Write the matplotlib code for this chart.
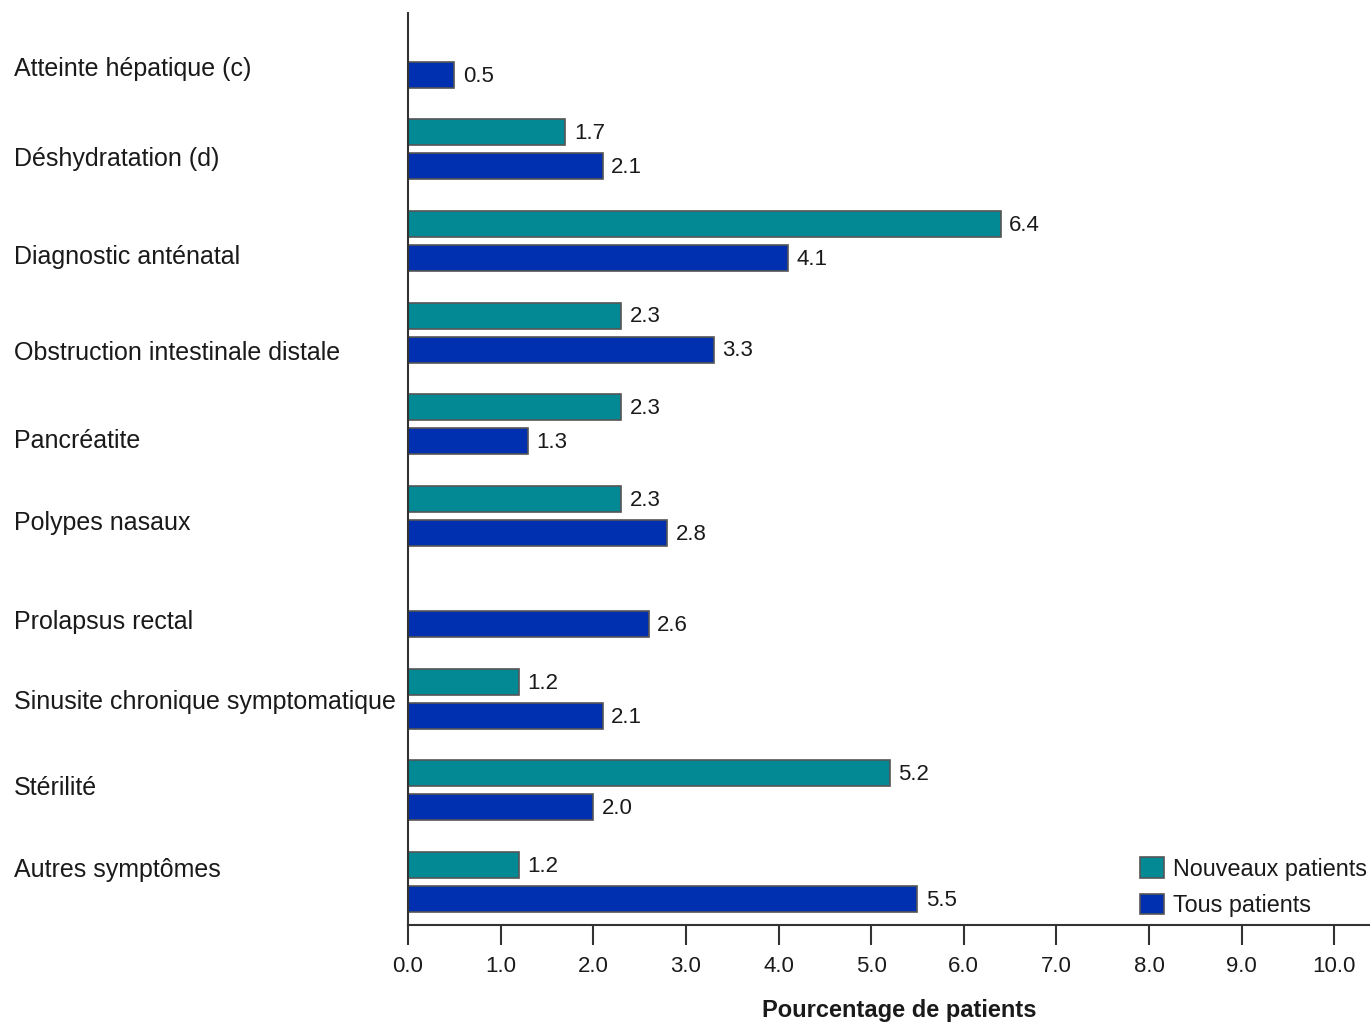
import numpy as np
import matplotlib
matplotlib.use("Agg")
import matplotlib.pyplot as plt
from matplotlib.transforms import blended_transform_factory
from matplotlib.patches import Patch

plt.rcParams['font.family'] = ['Liberation Sans', 'DejaVu Sans']

# Data
categories = [
    "Atteinte hépatique (c)",
    "Déshydratation (d)",
    "Diagnostic anténatal",
    "Obstruction intestinale distale",
    "Pancréatite",
    "Polypes nasaux",
    "Prolapsus rectal",
    "Sinusite chronique symptomatique",
    "Stérilité",
    "Autres symptômes",
]
nouveaux = [np.nan, 1.7, 6.4, 2.3, 2.3, 2.3, np.nan, 1.2, 5.2, 1.2]
tous = [0.5, 2.1, 4.1, 3.3, 1.3, 2.8, 2.6, 2.1, 2.0, 5.5]
series_names = ["Nouveaux patients", "Tous patients"]
xticks = np.arange(0, 11, 1.0)

# Style
teal = "#028993"
blue = "#0030b0"
edge = "#555555"
text_color = "#1a1a1a"
label_nudge = [0.12, 0.11, 0.17, 0.22, 0.18, 0.08, 0.16, 0.03, -0.03, -0.13]

fig = plt.figure(figsize=(13.7, 10.22), dpi=100)
ax = fig.add_axes([0.2978, 0.0949, 0.7022, 0.8924])

y = np.arange(len(categories))
offset = 0.1856
height = 0.284

b1 = ax.barh(y - offset, nouveaux, height=height, color=teal, edgecolor=edge, linewidth=1.2)
b2 = ax.barh(y + offset, tous, height=height, color=blue, edgecolor=edge, linewidth=1.2)

for bars, vals in ((b1, nouveaux), (b2, tous)):
    for rect, v in zip(bars, vals):
        if np.isnan(v):
            continue
        ax.annotate(f"{v:.1f}", xy=(v, rect.get_y() + rect.get_height() / 2),
                    xytext=(6, -1), textcoords="offset points",
                    ha="left", va="center", fontsize=16, color=text_color)

ax.set_xlim(0, 10.385)
ax.set_ylim(9.47, -0.49)

ax.set_xticks(xticks)
ax.set_xticklabels([f"{t:.1f}" for t in xticks], fontsize=16, color=text_color)
ax.tick_params(axis="x", length=14.5, width=1.5, color="#333333", pad=8)
ax.set_yticks([])

for side in ("top", "right"):
    ax.spines[side].set_visible(False)
for side in ("left", "bottom"):
    ax.spines[side].set_linewidth(1.5)
    ax.spines[side].set_color("#333333")

ax.set_xlabel("Pourcentage de patients", fontsize=17, fontweight="bold",
              color=text_color, labelpad=14)
ax.xaxis.set_label_coords(0.511, -0.081)

# Category labels, left-aligned at the figure margin
trans = blended_transform_factory(fig.transFigure, ax.transData)
for yi, name, nd in zip(y, categories, label_nudge):
    ax.text(0.0102, yi + nd, name, transform=trans, ha="left", va="center",
            fontsize=18, color=text_color, clip_on=False)

handles = [Patch(facecolor=teal, edgecolor=edge, linewidth=1.2),
           Patch(facecolor=blue, edgecolor=edge, linewidth=1.2)]
ax.legend(handles, series_names, loc="lower right", bbox_to_anchor=(1.009, -0.004),
          frameon=False, fontsize=16.8, handlelength=1.0, handleheight=1.0,
          handletextpad=0.4, labelspacing=0.55, borderaxespad=0.1,
          labelcolor=text_color)

fig.savefig("out.png", dpi=100)
